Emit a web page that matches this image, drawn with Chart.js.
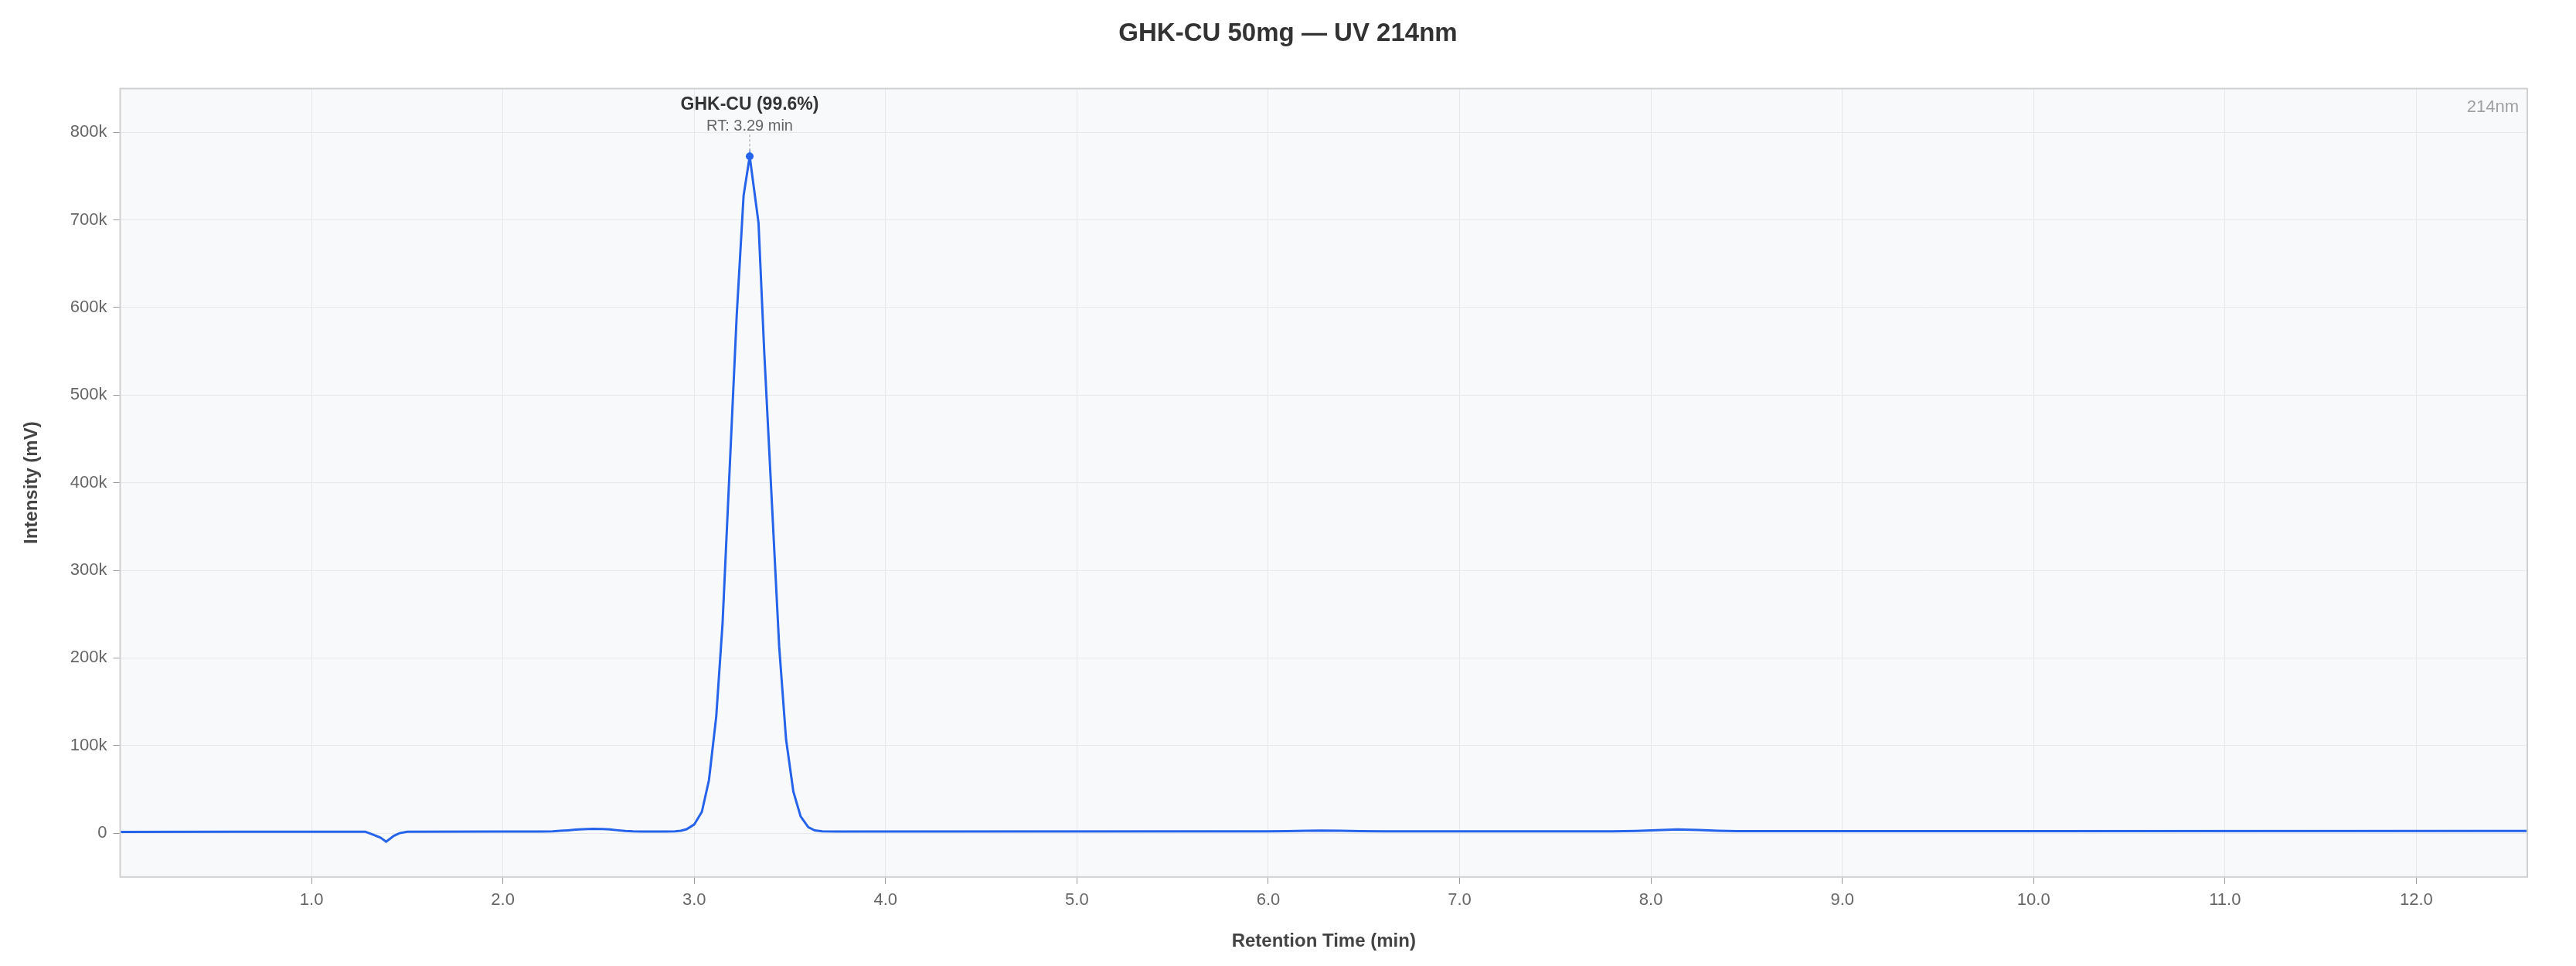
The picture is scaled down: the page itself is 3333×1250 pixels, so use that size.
<!DOCTYPE html>
<html>
<head>
<meta charset="utf-8">
<script src="https://cdn.jsdelivr.net/npm/chart.js@4.4.1/dist/chart.umd.min.js"></script>
<style>
  html, body { margin: 0; padding: 0; background: #ffffff; }
  canvas { display: block; }
</style>
</head>
<body>
<canvas id="c" width="3333" height="1250"></canvas>
<script>
// ---- data ----
const chartTitle = 'GHK-CU 50mg — UV 214nm';
const times = [
  0.00, 0.60, 1.20, 1.28, 1.32, 1.36, 1.39, 1.43, 1.46, 1.50,
  2.00, 2.20, 2.26, 2.30, 2.34, 2.38, 2.42, 2.47, 2.52, 2.56,
  2.60, 2.64, 2.68, 2.72, 2.85, 2.90, 2.93, 2.96, 3.00, 3.04,
  3.077, 3.115, 3.148, 3.222, 3.258, 3.29, 3.336, 3.366, 3.444, 3.48,
  3.518, 3.556, 3.596, 3.63, 3.67, 3.75, 6.00, 6.10, 6.20, 6.28,
  6.38, 6.48, 6.60, 7.80, 7.92, 8.03, 8.14, 8.25, 8.35, 8.45,
  10.00, 12.58
];
const intensity = [
  1500, 1600, 1700, 1700, -1500, -5000, -9700, -3000, 0, 1700,
  1800, 1900, 2200, 2700, 3300, 4000, 4600, 5000, 4800, 4200,
  3300, 2500, 2000, 1900, 1900, 2100, 2800, 4500, 9900, 24400,
  60500, 133000, 239000, 590700, 727800, 772700, 696700, 549000, 213000, 107000,
  47600, 19200, 6800, 3200, 2200, 1900, 2000, 2300, 2700, 3000,
  2800, 2300, 2100, 2100, 2600, 3500, 4200, 3600, 2800, 2400,
  2400, 2600
];
const xTickValues = [1, 2, 3, 4, 5, 6, 7, 8, 9, 10, 11, 12];
const yTickValues = [0, 100000, 200000, 300000, 400000, 500000, 600000, 700000, 800000];
const peakName = 'GHK-CU (99.6%)';
const peakTime = 3.29;
const peakLabel = 'RT: 3.29 min';
const wavelengthTag = '214nm';
const xAxisTitle = 'Retention Time (min)';
const yAxisTitle = 'Intensity (mV)';

const FONT = "'Liberation Sans', Arial, Helvetica, sans-serif";
const LINE = '#2563eb';
const peakIndex = times.indexOf(peakTime);

const frame = {
  id: 'frame',
  beforeDraw(chart) {
    const { ctx, chartArea: a } = chart;
    ctx.save();
    ctx.fillStyle = '#ffffff';
    ctx.fillRect(0, 0, chart.width, chart.height);
    ctx.fillStyle = '#f8f9fb';
    ctx.fillRect(a.left, a.top, a.right - a.left, a.bottom - a.top);
    ctx.restore();
  },
  afterDatasetsDraw(chart) {
    const { ctx, chartArea: a, scales } = chart;
    ctx.save();
    // border
    ctx.strokeStyle = '#d0d0d0';
    ctx.lineWidth = 2;
    ctx.strokeRect(a.left, a.top, a.right - a.left, a.bottom - a.top);
    // peak annotation
    const px = scales.x.getPixelForValue(times[peakIndex]);
    const py = scales.y.getPixelForValue(intensity[peakIndex]);
    ctx.strokeStyle = '#999999';
    ctx.lineWidth = 1;
    ctx.setLineDash([3, 3]);
    ctx.beginPath();
    ctx.moveTo(px, py - 7);
    ctx.lineTo(px, py - 29);
    ctx.stroke();
    ctx.setLineDash([]);
    ctx.textAlign = 'center';
    ctx.textBaseline = 'alphabetic';
    ctx.fillStyle = '#666666';
    ctx.font = '20px ' + FONT;
    ctx.fillText(peakLabel, px, py - 33);
    ctx.fillStyle = '#333333';
    ctx.font = 'bold 23px ' + FONT;
    ctx.fillText(peakName, px, py - 60);
    // wavelength tag
    ctx.textAlign = 'right';
    ctx.fillStyle = '#a0a0a0';
    ctx.font = '22px ' + FONT;
    ctx.fillText(wavelengthTag, a.right - 11, a.top + 30);
    ctx.restore();
  }
};

new Chart(document.getElementById('c'), {
  type: 'line',
  data: {
    datasets: [{
      data: times.map((t, i) => ({ x: t, y: intensity[i] })),
      borderColor: LINE,
      backgroundColor: LINE,
      borderWidth: 3,
      tension: 0,
      fill: false,
      pointRadius: ctx => ctx.dataIndex === peakIndex ? 5 : 0,
      pointHoverRadius: 0,
      pointBackgroundColor: LINE,
      pointBorderWidth: 0
    }]
  },
  options: {
    responsive: false,
    devicePixelRatio: 1,
    animation: false,
    events: [],
    layout: { padding: { top: 0, left: 0, right: 0, bottom: 0 } },
    plugins: {
      legend: { display: false },
      tooltip: { enabled: false },
      title: {
        display: true,
        text: chartTitle,
        color: '#333333',
        font: { family: FONT, size: 33, weight: 'bold' },
        padding: { top: 24, bottom: 51 }
      }
    },
    scales: {
      x: {
        type: 'linear',
        min: 0,
        max: 12.58,
        afterBuildTicks: s => { s.ticks = xTickValues.map(v => ({ value: v })); },
        ticks: {
          color: '#666666',
          font: { family: FONT, size: 22 },
          padding: 8,
          maxRotation: 0,
          autoSkip: false,
          callback: v => Number(v).toFixed(1)
        },
        grid: { color: '#e6e8ec', lineWidth: 1, tickLength: 9, tickColor: '#9a9a9a', drawTicks: true },
        border: { display: false },
        title: {
          display: true,
          text: xAxisTitle,
          color: '#444444',
          font: { family: FONT, size: 24, weight: 'bold' },
          padding: { top: 18, bottom: 17 }
        }
      },
      y: {
        type: 'linear',
        min: -50000,
        max: 850000,
        afterBuildTicks: s => { s.ticks = yTickValues.map(v => ({ value: v })); },
        ticks: {
          color: '#666666',
          font: { family: FONT, size: 22 },
          padding: 8,
          autoSkip: false,
          callback: v => v === 0 ? '0' : (v / 1000) + 'k'
        },
        grid: { color: '#e6e8ec', lineWidth: 1, tickLength: 9, tickColor: '#9a9a9a', drawTicks: true },
        border: { display: false },
        title: {
          display: true,
          text: yAxisTitle,
          color: '#444444',
          font: { family: FONT, size: 24, weight: 'bold' },
          padding: { top: 27, bottom: 27 }
        }
      },
      gap: {
        type: 'linear',
        position: 'right',
        display: true,
        ticks: { display: false },
        grid: { display: false, drawTicks: false },
        border: { display: false },
        afterFit: s => { s.width = 63; }
      }
    }
  },
  plugins: [frame]
});
</script>
</body>
</html>
